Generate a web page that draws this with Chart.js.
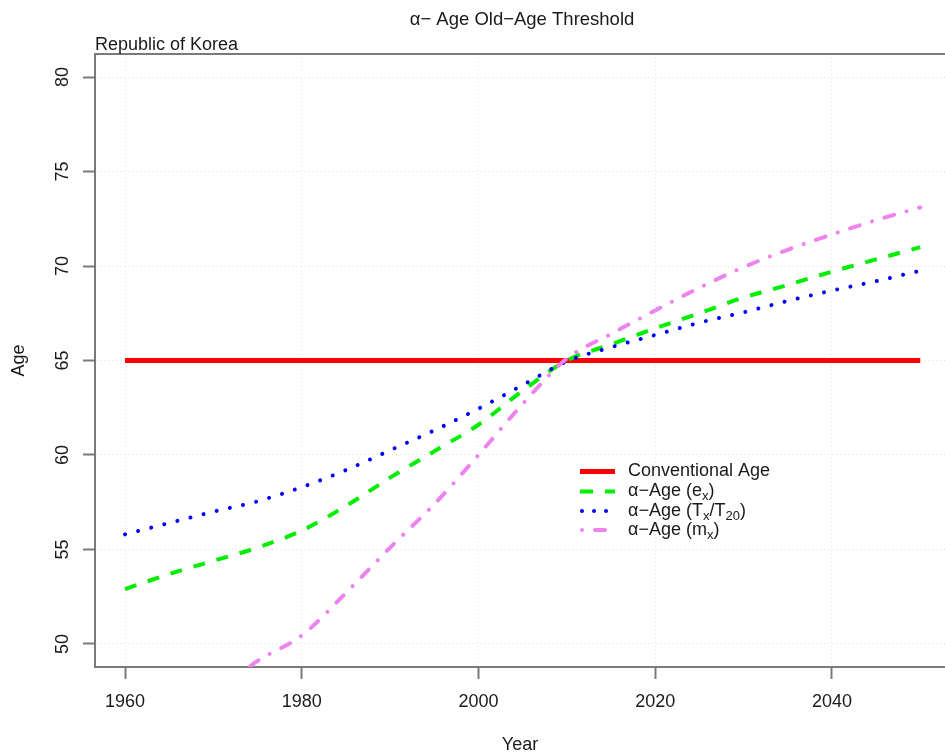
<!DOCTYPE html>
<html><head><meta charset="utf-8">
<script src="https://cdn.jsdelivr.net/npm/chart.js@4/dist/chart.umd.min.js"></script>
<style>html,body{margin:0;padding:0;background:#fff;} #wrap{width:945px;height:756px;position:relative;}</style>
</head><body><div id="wrap"><canvas id="c" width="945" height="756"></canvas></div>
<script>
const years = [1960,1965,1970,1975,1980,1985,1990,1995,2000,2005,2010,2015,2020,2025,2030,2035,2040,2045,2050];
const conventionalAge = [65,65,65,65,65,65,65,65,65,65,65,65,65,65,65,65,65,65,65];
const alphaEx = [52.9,53.7,54.4,55.1,56.0,57.3,58.8,60.2,61.6,63.4,65.0,65.85,66.7,67.5,68.33,69.0,69.7,70.35,71.0];
const alphaTx = [55.8,56.4,57.0,57.55,58.3,59.2,60.25,61.3,62.45,63.7,64.95,65.7,66.35,67.0,67.55,68.15,68.7,69.2,69.75];
const mxYears = [1973,1975,1980,1985,1990,1995,2000,2005,2010,2015,2020,2025,2030,2035,2040,2045,2050];
const alphaMx = [48.4,49.1,50.45,52.7,55.1,57.4,60.0,62.7,65.1,66.4,67.65,68.85,69.94,70.86,71.67,72.43,73.1];
const xTicks = [1960,1980,2000,2020,2040];
const yTicks = [50,55,60,65,70,75,80];
const titleText = 'α− Age Old−Age Threshold';
const subtitleText = 'Republic of Korea';

const FONT = '"Liberation Sans", Arial, sans-serif';
const TXT = '#1a1a1a';
const AXIS = '#7a7a7a';
const GRID = 'rgba(0,0,0,0.12)';

function pts(xs, ys){ return xs.map((x,i)=>({x:x, y:ys[i]})); }

const legendItems = [
  {color:'#ff0000', width:5, dash:[], cap:'butt', parts:[['Conventional Age',0]]},
  {color:'#00ee00', width:4, dash:[13,12], cap:'butt', parts:[['α−Age (e',0],['x',1],[')',0]]},
  {color:'#0000ff', width:4, dash:[0.01,12], cap:'round', parts:[['α−Age (T',0],['x',1],['/T',0],['20',1],[')',0]]},
  {color:'#ee82ee', width:4, dash:[0.01,13,10,13], cap:'round', parts:[['α−Age (m',0],['x',1],[')',0]]}
];

const decor = {
  id:'decor',
  afterDraw(chart){
    const ctx = chart.ctx;
    ctx.save();
    ctx.fillStyle = TXT;
    ctx.textBaseline = 'alphabetic';
    ctx.font = '18.5px ' + FONT;
    ctx.textAlign = 'center';
    ctx.fillText(titleText, 522, 25);
    ctx.font = '18px ' + FONT;
    ctx.textAlign = 'left';
    ctx.fillText(subtitleText, 95, 50);
    // legend
    const rows = [471.5, 491.5, 511, 530];
    legendItems.forEach((it, i) => {
      const y = rows[i];
      ctx.save();
      ctx.strokeStyle = it.color; ctx.lineWidth = it.width; ctx.lineCap = it.cap;
      ctx.setLineDash(it.dash);
      ctx.beginPath(); ctx.moveTo(it.cap==='round'?582:580, y); ctx.lineTo(615, y); ctx.stroke();
      ctx.restore();
      let x = 628;
      ctx.textBaseline = 'middle';
      it.parts.forEach(p => {
        if (p[1]) { ctx.font = '13px ' + FONT; ctx.fillText(p[0], x, y + 5); }
        else { ctx.font = '18px ' + FONT; ctx.fillText(p[0], x, y); }
        x += ctx.measureText(p[0]).width;
      });
    });
    ctx.restore();
  }
};

new Chart(document.getElementById('c'), {
  type: 'line',
  data: {
    datasets: [
      {label:'Conventional Age', data: pts(years, conventionalAge), borderColor:'#ff0000', borderWidth:5, pointRadius:0, order:4, tension:0},
      {label:'α−Age (ex)', data: pts(years, alphaEx), borderColor:'#00ee00', borderWidth:4, borderDash:[12,12], pointRadius:0, order:3, cubicInterpolationMode:'monotone'},
      {label:'α−Age (Tx/T20)', data: pts(years, alphaTx), borderColor:'#0000ff', borderWidth:4, borderDash:[0.01,13.5], borderCapStyle:'round', pointRadius:0, order:2, cubicInterpolationMode:'monotone'},
      {label:'α−Age (mx)', data: pts(mxYears, alphaMx), borderColor:'#ee82ee', borderWidth:4, borderDash:[0.01,13,10,13], borderCapStyle:'round', pointRadius:0, order:1, cubicInterpolationMode:'monotone'}
    ]
  },
  options: {
    responsive:false, animation:false, events:[],
    layout:{padding:0},
    plugins:{legend:{display:false}, title:{display:false}, tooltip:{enabled:false}},
    scales:{
      x:{
        type:'linear', position:'bottom', min:1956.6, max:2052.8,
        afterBuildTicks(s){ s.ticks = xTicks.map(v=>({value:v})); },
        afterFit(s){ s.height = 89; },
        ticks:{font:{size:18, family:FONT}, color:TXT, padding:12, maxRotation:0, minRotation:0, autoSkip:false, callback:v=>String(v)},
        grid:{color:GRID, lineWidth:1, drawTicks:true, tickLength:12, tickColor:AXIS, tickWidth:2, tickBorderDash:[]},
        border:{display:true, color:AXIS, width:2, dash:[1,3]},
        title:{display:true, text:'Year', font:{size:18, family:FONT}, color:TXT, padding:{top:0, bottom:0}}
      },
      x2:{
        type:'linear', position:'top', min:1956.6, max:2052.8,
        afterFit(s){ s.height = 54; },
        ticks:{display:false},
        grid:{display:false},
        border:{display:true, color:AXIS, width:2}
      },
      y:{
        type:'linear', position:'left', min:48.78, max:81.22,
        afterBuildTicks(s){ s.ticks = yTicks.map(v=>({value:v})); },
        afterFit(s){ s.width = 95; },
        ticks:{font:{size:18, family:FONT}, color:TXT, padding:10, minRotation:90, maxRotation:90, crossAlign:'center', autoSkip:false, callback:v=>String(v)},
        grid:{color:GRID, lineWidth:1, drawTicks:true, tickLength:12, tickColor:AXIS, tickWidth:2, tickBorderDash:[]},
        border:{display:true, color:AXIS, width:2, dash:[1,3]},
        title:{display:true, text:'Age', font:{size:18, family:FONT}, color:TXT, padding:{top:8, bottom:0}}
      }
    }
  },
  plugins:[decor]
});
</script>
</body></html>
